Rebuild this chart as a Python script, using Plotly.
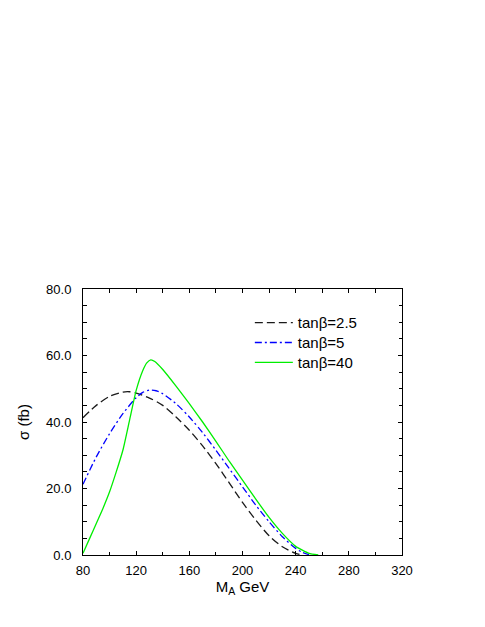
import plotly.graph_objects as go

# tanβ = 2.5
m_black = [80, 90, 100, 110, 115, 120, 130, 140, 150, 160, 170, 180, 190, 200, 210, 220, 230, 240, 245]
sig_black = [41.3, 45.0, 47.7, 49.0, 49.1, 48.7, 47.2, 45.0, 41.5, 37.5, 32.8, 27.5, 21.7, 15.8, 10.5, 5.8, 2.5, 0.5, 0.0]

# tanβ = 5
m_blue = [80, 90, 100, 110, 120, 125, 130, 135, 140, 150, 160, 170, 180, 190, 200, 210, 220, 230, 240, 245, 250]
sig_blue = [21.3, 29.5, 36.5, 42.5, 47.3, 48.9, 49.6, 49.4, 48.5, 45.5, 41.5, 36.8, 31.5, 26.0, 20.5, 15.0, 10.0, 5.5, 2.0, 0.8, 0.1]

# tanβ = 40
m_green = [80, 85, 90, 95, 100, 105, 110, 115, 120, 125, 128, 131, 134, 140, 150, 160, 170, 180, 190, 200, 210, 220, 230, 240, 250, 257]
sig_green = [0.5, 5.0, 9.5, 14.0, 19.0, 25.0, 31.5, 40.5, 49.5, 55.5, 57.8, 58.7, 58.2, 55.8, 50.8, 45.5, 40.0, 34.2, 28.2, 22.5, 16.8, 11.3, 6.5, 2.6, 0.5, 0.0]

names = ["tanβ=2.5", "tanβ=5", "tanβ=40"]
x_ticks = [80, 120, 160, 200, 240, 280, 320]
y_ticks = [0, 20, 40, 60, 80]

FONT = "Liberation Sans, Arial, Helvetica, sans-serif"

fig = go.Figure()
fig.add_trace(go.Scatter(x=m_black, y=sig_black, mode="lines", name=names[0], legend="legend",
                         line=dict(color="#1a1a1a", width=1.3, dash="8px,4px", shape="spline", smoothing=0.8)))
fig.add_trace(go.Scatter(x=m_blue, y=sig_blue, mode="lines", name=names[1], legend="legend2",
                         line=dict(color="#0000ff", width=1.3, dash="7px,3px,2px,3px", shape="spline", smoothing=0.8)))
fig.add_trace(go.Scatter(x=m_green, y=sig_green, mode="lines", name=names[2], legend="legend3",
                         line=dict(color="#00ee00", width=1.3, shape="spline", smoothing=0.5)))

axis_common = dict(showgrid=False, zeroline=False, showline=True, linecolor="black", linewidth=1,
                   mirror="allticks", ticks="inside", tickcolor="black", ticklen=4, tickwidth=1)

fig.update_xaxes(range=[80, 320], tickvals=x_ticks, ticktext=[str(v) for v in x_ticks],
                 minor=dict(dtick=20, tick0=80, ticks="inside", ticklen=3.5, tickcolor="black"),
                 title=dict(text="M<sub>A</sub> GeV", font=dict(size=15, family=FONT, color="black"), standoff=4),
                 tickfont=dict(size=13, family=FONT, color="black"), ticklabelstandoff=3, **axis_common)
fig.update_yaxes(range=[0, 80], tickvals=y_ticks, ticktext=[f"{v:.1f}" for v in y_ticks],
                 minor=dict(dtick=5, tick0=0, ticks="inside", ticklen=3.5, tickcolor="black"),
                 title=dict(text="σ (fb)", font=dict(size=15, family=FONT, color="black"), standoff=12),
                 tickfont=dict(size=13, family=FONT, color="black"), ticklabelstandoff=8, **axis_common)

leg_common = dict(x=0.523, xanchor="left", yanchor="top", bgcolor="rgba(0,0,0,0)", itemwidth=38,
                  font=dict(size=15, family=FONT, color="black"))

fig.update_layout(
    width=477, height=619,
    margin=dict(l=74.5, r=82.5, t=281, b=71.5, autoexpand=False),
    paper_bgcolor="white", plot_bgcolor="white",
    font=dict(family=FONT, color="black"),
    showlegend=True,
    legend=dict(y=0.935, **leg_common),
    legend2=dict(y=0.860, **leg_common),
    legend3=dict(y=0.785, **leg_common),
)

fig.write_html("out.html")
